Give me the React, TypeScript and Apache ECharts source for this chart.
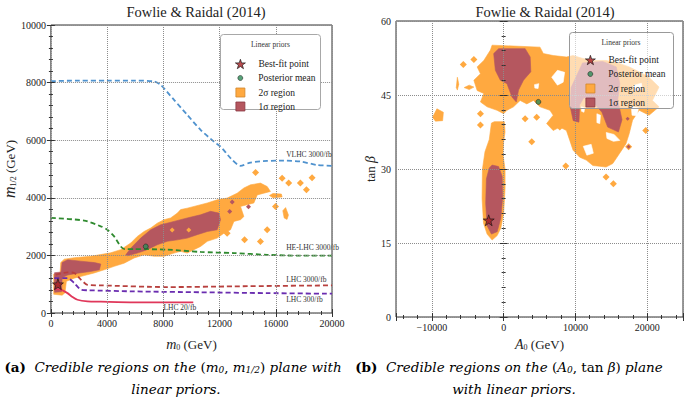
import React, { useEffect, useRef } from 'react';
import * as echarts from 'echarts';

const SERIF = 'Liberation Serif';
const CAPSERIF = 'DejaVu Serif';
const STAR = 'path://M50,2 L61.8,36.2 L97.6,36.2 L68.6,57.4 L79.6,91.8 L50,70.6 L20.4,91.8 L31.4,57.4 L2.4,36.2 L38.2,36.2 Z';
const ORANGE = '#FFA940';
const MAUVE = '#B5575F';

// ---------- texts ----------
const plotTitle = 'Fowlie & Raidal (2014)';
const legendTitle = 'Linear priors';
const legendNames = ['Best-fit point', 'Posterior mean', '2σ region', '1σ region'];

// ---------- left panel (m0, m1/2) ----------
const leftX = [0, 20000, 4000];
const leftY = [0, 10000, 2000];

const left2sigma = [
  [[200, 650], [200, 1350], [650, 1350], [700, 1750], [950, 1870], [1660, 1920], [2840, 1970], [3550, 2030], [4260, 2090],
   [4970, 2200], [5680, 2430], [6150, 2660], [6630, 2830], [7100, 2950], [7570, 3120], [8050, 3240], [8520, 3300], [9000, 3470],
   [9230, 3590], [9700, 3640], [10180, 3700], [11130, 3820], [11830, 3930], [12540, 3990], [13250, 4160], [13730, 4340],
   [14200, 4450], [14910, 4510], [15390, 4390], [15620, 4220], [15150, 4160], [14680, 4100], [14440, 3820], [13490, 3700],
   [13730, 3350], [13490, 3240], [13020, 3180], [12780, 2890], [12310, 2770], [11830, 2600], [11130, 2490], [10650, 2310],
   [10180, 2200], [9700, 2080], [9230, 2140], [8760, 2080], [8050, 1970], [7340, 1970], [6630, 2020], [5920, 1910],
   [5210, 1730], [4500, 1620], [3790, 1500], [3080, 1390], [2370, 1300], [1660, 1210], [1100, 1100], [1000, 700], [800, 620]],
  [[15550, 4080], [15800, 4150], [16400, 4130], [16450, 4030], [15800, 4000]],
  [[16500, 3550], [16700, 3660], [16900, 3400], [16800, 3250], [16600, 3300]],
];
const left1sigma = [
  [[260, 720], [260, 1400], [720, 1420], [800, 1750], [1200, 1850], [2100, 1800], [3100, 1750], [3550, 1700], [3450, 1500],
   [2800, 1440], [1900, 1380], [1200, 1320], [800, 1230], [760, 740]],
  [[5330, 2020], [5680, 2250], [6390, 2600], [7100, 2890], [7810, 3060], [8760, 3180], [9700, 3300], [10650, 3410],
   [11360, 3530], [11950, 3470], [12070, 3240], [11830, 2890], [11130, 2830], [10410, 2720], [9700, 2600], [9000, 2540],
   [8280, 2490], [7570, 2370], [6860, 2200], [6150, 2080], [5440, 1990]],
];
const leftBlobs = [[14560, 4880], [16450, 4680], [16920, 4510], [17750, 4510], [18180, 4280], [18580, 4700],
  [15980, 3700], [15390, 2890], [13780, 2540], [14910, 2480], [12540, 2770]];
const leftMauveDots = [[12900, 3850], [12720, 3520], [14060, 3690]];
const leftOrangeDots = [[8630, 2880], [9810, 2880]];

const vlhc = [[0, 8050], [2000, 8070], [4000, 8070], [6000, 8070], [7340, 8040], [7810, 7920], [8760, 7400], [9700, 6880],
  [10650, 6360], [11600, 5950], [12070, 5780], [12780, 5380], [13490, 5110], [14200, 5225], [15380, 5280], [16570, 5290],
  [17750, 5260], [18930, 5140], [20000, 5110]];
const heLhc = [[0, 3300], [2370, 3210], [3550, 3010], [4020, 2890], [4500, 2660], [4970, 2310], [5250, 2220], [5920, 2220],
  [8280, 2200], [10650, 2120], [13020, 2080], [15380, 2020], [17750, 1990], [20000, 1990]];
const lhc3000 = [[350, 1330], [1180, 1410], [1660, 1390], [2130, 1160], [2600, 980], [3550, 960], [8280, 900], [13020, 925], [20000, 960]];
const lhc300 = [[240, 1210], [1180, 1210], [1660, 1040], [2130, 810], [2600, 790], [5920, 750], [10650, 720], [15380, 690], [20000, 670]];
const lhc20 = [[240, 830], [710, 810], [1180, 690], [1540, 555], [1890, 460], [2600, 405], [3550, 393], [5920, 370], [8280, 370], [10130, 370]];
const lineNames = ['VLHC 3000/fb', 'HE-LHC 3000/fb', 'LHC 3000/fb', 'LHC 300/fb', 'LHC 20/fb'];
const lineLabelAt = [[16740, 5520], [16740, 2257], [16740, 1180], [16740, 486], [8010, 174]];

const leftBest = [[500, 1000]];
const leftMean = [[6750, 2310]];

// ---------- right panel (A0, tan beta) ----------
const rightX = [-15000, 25000];
const rightY = [0, 60, 15];

const right2sigma = [
  [[-1600, 15.6], [-2300, 16.8], [-2800, 19], [-3000, 24], [-2950, 30], [-2600, 33.5], [-2000, 36], [-1700, 39.3], [-1300, 39.6],
   [100, 39.6], [200, 37.5], [0, 35.5], [-100, 33], [200, 30], [200, 26], [0, 21], [-400, 18], [-900, 16.5]],
  [[-1610, 55.1], [5070, 54.7], [5530, 53.4], [6910, 53.0], [8750, 52.7], [9680, 53.0], [11060, 52.4], [12440, 52.0],
   [14280, 52.0], [16130, 51.4], [17510, 50.7], [18890, 49.7], [20270, 48.6], [21660, 46.6], [20740, 43.9], [21660, 42.6],
   [20270, 40.9], [18890, 41.9], [17970, 39.9], [17510, 37.2], [17050, 35.1], [16130, 33.1], [15210, 31.1], [14280, 30.4],
   [12440, 30.7], [11520, 31.8], [10600, 32.4], [9680, 33.8], [9220, 35.8], [8750, 37.8], [7830, 38.5], [6910, 37.8],
   [5990, 39.2], [6910, 40.9], [6450, 41.9], [5070, 42.6], [4150, 43.9], [3230, 43.2], [2300, 43.9], [1380, 42.6],
   [460, 41.9], [0, 41.2], [-920, 41.9], [-2300, 42.6], [-3230, 43.6], [-2760, 45.3], [-3690, 45.9], [-4150, 48.0],
   [-3230, 49.3], [-3690, 50.7], [-2760, 52.0], [-1840, 54.1]],
  [[-9900, 40.5], [-9300, 42.2], [-8400, 41.5], [-8500, 39.8], [-9500, 39.7]],
  [[-6600, 46.5], [-6450, 48.6], [-6250, 47.2], [-6450, 46]],
  [[-5500, 46.5], [-4800, 47], [-4150, 46.6], [-4800, 46.1]],
];
const rightHoles = [
  [[6700, 48.6], [7500, 50.0], [8500, 49.6], [8300, 47.6], [7500, 47.0]],
  [[4300, 47.1], [4900, 47.3], [4800, 46.3], [4350, 46.4]],
  [[10850, 42.6], [11300, 42.4], [11200, 41.5], [10850, 41.7]],
  [[13000, 41.2], [13500, 40.9], [13400, 39.2], [13000, 39.4]],
  [[14300, 37.4], [15400, 37.0], [16200, 35.8], [15300, 35.6], [14400, 36.2]],
  [[17800, 42.6], [18800, 42.4], [18600, 40.8], [17900, 40.9]],
  [[11100, 34.6], [12200, 35.0], [12500, 33.2], [11600, 32.8]],
  [[18000, 46.9], [19200, 47.4], [19300, 46.2], [18200, 45.8]],
];
const right1sigma = [
  [[-1600, 30.8], [-700, 30.5], [-200, 28.5], [-150, 24], [-400, 20], [-900, 17.3], [-1700, 16.8], [-2300, 18.5],
   [-2500, 23], [-2400, 28], [-2000, 30.2]],
  [[-1385, 53.4], [-690, 54.4], [3000, 54.4], [3700, 52.7], [3790, 49.7], [2770, 48.0], [2080, 46.0], [1760, 43.6],
   [1160, 44.6], [470, 47.3], [-460, 48.0], [-1150, 50.0]],
  [[9400, 46.5], [11000, 51.5], [13800, 51.8], [15700, 50.7], [16200, 47.3], [15900, 44], [16500, 40], [16000, 37.5],
   [14500, 38.5], [13700, 41.5], [12500, 43.5], [11200, 44.5], [10600, 43], [10500, 39.5], [9700, 39.8], [9300, 42.5]],
];
const rightBlobs = [[-5620, 51.2], [-4150, 52.2], [-3230, 38.9], [-3230, 41.2], [3000, 40.2], [4610, 40.5], [3920, 35.5],
  [7830, 38.5], [8660, 30.6], [14280, 28.4], [15300, 27.0], [17280, 40.2], [17420, 34.5], [19810, 37.8], [19810, 42.0]];
const rightMauveDots = [[17280, 40.2], [17420, 34.5]];
const rightBest = [[-2080, 19.6]];
const rightMean = [[4840, 43.6]];

// ---------- helpers ----------
const txt = (size: number, extra: any = {}) => ({ fontFamily: SERIF, fontSize: size, color: '#222', ...extra });
const plain = (v: number) => String(v).replace('-', '\u2212');

function polySeries(name: string, polys: number[][][], fill: string, axis: number, z: number) {
  return {
    type: 'custom', name, xAxisIndex: axis, yAxisIndex: axis, z, silent: true,
    itemStyle: { color: fill },
    data: polys.map((p) => p[0]),
    renderItem: (params: any, api: any) => ({
      type: 'polygon',
      shape: { points: polys[params.dataIndex].map((pt) => api.coord(pt)) },
      style: { fill, stroke: fill, lineWidth: 0.6 },
    }),
  };
}
function dots(name: string, pts: number[][], color: string, size: number, axis: number, z: number, symbol = 'diamond') {
  return {
    type: 'scatter', name, xAxisIndex: axis, yAxisIndex: axis, z, silent: true, symbol, symbolSize: size,
    itemStyle: { color, opacity: 1 }, data: pts,
  };
}
function limitLine(i: number, data: number[][], color: string, solid = false) {
  return {
    type: 'line', name: lineNames[i], xAxisIndex: 0, yAxisIndex: 0, z: 5, silent: true, showSymbol: false, smooth: 0.25,
    clip: true, data,
    lineStyle: { color, width: 1.8, type: solid ? 'solid' : [5, 3] },
    markPoint: {
      symbolSize: 0, silent: true,
      data: [{ coord: lineLabelAt[i], value: lineNames[i] }],
      label: { show: true, position: 'right', distance: 0, formatter: lineNames[i], ...txt(7.5, { color: '#333' }) },
    },
  };
}
function axisPair(kind: 'x' | 'y', grid: number, range: number[], label: boolean, extra: any = {}) {
  const [min, max, interval] = range;
  const base: any = {
    type: 'value', gridIndex: grid, min, max, z: 7,
    axisLine: { show: false },
    axisTick: { show: true, inside: true, length: 4, lineStyle: { color: '#333' } },
    minorTick: { show: true, splitNumber: 5, length: 2, lineStyle: { color: '#333' } },
    splitLine: { show: label, lineStyle: { color: '#8c8c8c', type: 'dotted', width: 1 } },
    axisLabel: { show: label, margin: 5, formatter: plain, ...txt(10) },
    ...extra,
  };
  if (interval !== undefined) base.interval = interval;
  else base.splitNumber = 4;
  if (kind === 'x') base.position = label ? 'bottom' : 'top';
  else base.position = label ? 'left' : 'right';
  return base;
}
function legendSet(x: number, y: number) {
  return [
    { left: x - 5, top: y, itemWidth: 10, itemHeight: 10, selectedMode: false, z: 9, orient: 'vertical',
      textStyle: txt(9.5, { lineHeight: 12, padding: [0, 0, 0, 8] }),
      data: [{ name: legendNames[0], icon: STAR, itemStyle: { color: '#A51E22', borderColor: '#111', borderWidth: 0.8 } }] },
    { left: x - 2.5, top: y + 14, itemWidth: 5, itemHeight: 5, selectedMode: false, z: 9, orient: 'vertical',
      textStyle: txt(9.5, { lineHeight: 12, padding: [0, 0, 0, 10.5] }),
      data: [{ name: legendNames[1], icon: 'circle', itemStyle: { color: '#2E8B57', borderColor: '#111', borderWidth: 0.6 } }] },
    { left: x - 4.5, top: y + 28.5, itemWidth: 9, itemHeight: 9, itemGap: 2, selectedMode: false, z: 9, orient: 'vertical',
      textStyle: txt(9.5, { lineHeight: 12, padding: [0, 0, 0, 8.5] }),
      data: [
        { name: legendNames[2], icon: 'rect', itemStyle: { color: ORANGE, borderColor: '#D0862C', borderWidth: 0.8 } },
        { name: legendNames[3], icon: 'rect', itemStyle: { color: MAUVE, borderColor: '#8A3942', borderWidth: 0.8 } },
      ] },
  ];
}

function buildOption(): any {
  const sub = { fontFamily: SERIF, fontSize: 8, color: '#222', verticalAlign: 'bottom' };
  const ital = { fontFamily: SERIF, fontSize: 14, fontStyle: 'italic', color: '#222', verticalAlign: 'bottom' };
  const rm = { fontFamily: SERIF, fontSize: 13, color: '#222', verticalAlign: 'bottom' };
  const capI = { fontFamily: CAPSERIF, fontSize: 13.5, fontStyle: 'italic', color: '#111' };
  const capR = { fontFamily: CAPSERIF, fontSize: 13.5, color: '#111' };
  const capS = { fontFamily: CAPSERIF, fontSize: 9, fontStyle: 'italic', color: '#111', padding: [6, 0, 0, 0] };
  const capB = { fontFamily: CAPSERIF, fontSize: 13.5, fontWeight: 'bold', color: '#111' };
  const capRich = { i: capI, r: capR, s: capS, b: capB };
  const capFont = `13.5px ${CAPSERIF}`;

  return {
    animation: false,
    backgroundColor: '#fff',
    title: [
      { text: plotTitle, left: 191, top: -1, textAlign: 'center', textStyle: txt(14.5, { fontWeight: 'normal' }) },
      { text: plotTitle, left: 540, top: -1, textAlign: 'center', textStyle: txt(14.5, { fontWeight: 'normal' }) },
    ],
    grid: [
      { left: 50, top: 25, width: 282, height: 288, show: true, borderColor: '#333', borderWidth: 1, backgroundColor: 'transparent' },
      { left: 396, top: 21, width: 287, height: 296, show: true, borderColor: '#333', borderWidth: 1, backgroundColor: 'transparent' },
    ],
    xAxis: [
      axisPair('x', 0, leftX, true, {
        name: '{i|m}{s|0}{r| (GeV)}', nameLocation: 'middle', nameGap: 24,
        nameTextStyle: { rich: { i: ital, s: sub, r: rm } },
      }),
      axisPair('x', 0, leftX, false),
      axisPair('x', 1, rightX, true, {
        name: '{i|A}{s|0}{r| (GeV)}', nameLocation: 'middle', nameGap: 20,
        nameTextStyle: { rich: { i: ital, s: sub, r: rm } },
        axisLabel: { show: true, margin: 5, showMinLabel: false, showMaxLabel: false, formatter: plain, ...txt(10) },
      }),
      axisPair('x', 1, rightX, false),
    ],
    yAxis: [
      axisPair('y', 0, leftY, true, {
        name: '{i|m}{s|1/2}{r| (GeV)}', nameLocation: 'middle', nameGap: 27,
        nameTextStyle: { rich: { i: { ...ital, fontSize: 16 }, s: sub, r: rm } },
      }),
      axisPair('y', 0, leftY, false),
      axisPair('y', 1, rightY, true, {
        name: '{r|tan }{i|β}', nameLocation: 'middle', nameGap: 18,
        nameTextStyle: { rich: { i: ital, r: rm } },
      }),
      axisPair('y', 1, rightY, false),
    ],
    legend: [...legendSet(235, 53), ...legendSet(585, 49)],
    graphic: {
      elements: [
        { type: 'rect', z: 8, shape: { x: 220.5, y: 34.5, width: 100, height: 75, r: 3 }, style: { fill: '#fff', stroke: '#a8a8a8', lineWidth: 1 } },
        { type: 'text', z: 9, style: { text: legendTitle, x: 270.5, y: 44.5, align: 'center', verticalAlign: 'middle', font: `7.5px ${SERIF}`, fill: '#333' } },
        { type: 'rect', z: 8, shape: { x: 569.5, y: 32.5, width: 104, height: 76, r: 3 }, style: { fill: 'rgba(255,255,255,0.6)', stroke: '#999', lineWidth: 1 } },
        { type: 'text', z: 9, style: { text: legendTitle, x: 621, y: 42.5, align: 'center', verticalAlign: 'middle', font: `7.5px ${SERIF}`, fill: '#333' } },
        { type: 'text', z: 9, style: { text: '{b|(a)}  {i|Credible regions on the }{r|(}{i|m}{s|0}{r|, }{i|m}{s|1/2}{r|)}{i| plane with}', x: 173, y: 367, align: 'center', verticalAlign: 'middle', rich: capRich, font: capFont } },
        { type: 'text', z: 9, style: { text: '{i|linear priors.}', x: 176, y: 389, align: 'center', verticalAlign: 'middle', rich: capRich, font: capFont } },
        { type: 'text', z: 9, style: { text: '{b|(b)}  {i|Credible regions on the }{r|(}{i|A}{s|0}{r|, tan }{i|β}{r|)}{i| plane}', x: 509, y: 367, align: 'center', verticalAlign: 'middle', rich: capRich, font: capFont } },
        { type: 'text', z: 9, style: { text: '{i|with linear priors.}', x: 514, y: 389, align: 'center', verticalAlign: 'middle', rich: capRich, font: capFont } },
      ],
    },
    series: [
      // left panel
      polySeries(legendNames[2], left2sigma, ORANGE, 0, 1),
      dots('', leftBlobs, ORANGE, 7, 0, 1),
      polySeries(legendNames[3], left1sigma, MAUVE, 0, 3),
      dots('', leftMauveDots, MAUVE, 5, 0, 3),
      dots('', leftOrangeDots, ORANGE, 5, 0, 4),
      limitLine(0, vlhc, '#4F92CE'),
      limitLine(1, heLhc, '#2F8A2F'),
      limitLine(2, lhc3000, '#B8403E'),
      limitLine(3, lhc300, '#6A2DB0'),
      limitLine(4, lhc20, '#E0375A', true),
      { type: 'scatter', name: legendNames[0], xAxisIndex: 0, yAxisIndex: 0, z: 6, symbol: STAR, symbolSize: 11, data: leftBest,
        itemStyle: { color: '#A51E22', borderColor: '#111', borderWidth: 0.8 } },
      { type: 'scatter', name: legendNames[1], xAxisIndex: 0, yAxisIndex: 0, z: 6, symbol: 'circle', symbolSize: 5, data: leftMean,
        itemStyle: { color: '#2E8B57', borderColor: '#111', borderWidth: 0.6 } },
      // right panel
      polySeries(legendNames[2], right2sigma, ORANGE, 2, 1),
      dots('', rightBlobs, ORANGE, 7, 2, 1),
      polySeries('', rightHoles, '#ffffff', 2, 2),
      polySeries(legendNames[3], right1sigma, MAUVE, 2, 3),
      dots('', rightMauveDots, MAUVE, 4, 2, 3),
      { type: 'scatter', name: legendNames[0], xAxisIndex: 2, yAxisIndex: 2, z: 6, symbol: STAR, symbolSize: 11, data: rightBest,
        itemStyle: { color: '#A51E22', borderColor: '#111', borderWidth: 0.8 } },
      { type: 'scatter', name: legendNames[1], xAxisIndex: 2, yAxisIndex: 2, z: 6, symbol: 'circle', symbolSize: 5, data: rightMean,
        itemStyle: { color: '#2E8B57', borderColor: '#111', borderWidth: 0.6 } },
    ],
  };
}

export default function App() {
  const ref = useRef<HTMLDivElement>(null);
  useEffect(() => {
    const chart = echarts.init(ref.current as HTMLDivElement, undefined, { renderer: 'svg' });
    chart.setOption(buildOption());
    return () => chart.dispose();
  }, []);
  return <div ref={ref} style={{ position: 'fixed', left: 0, top: 0, width: 685, height: 401, background: '#fff' }} />;
}
